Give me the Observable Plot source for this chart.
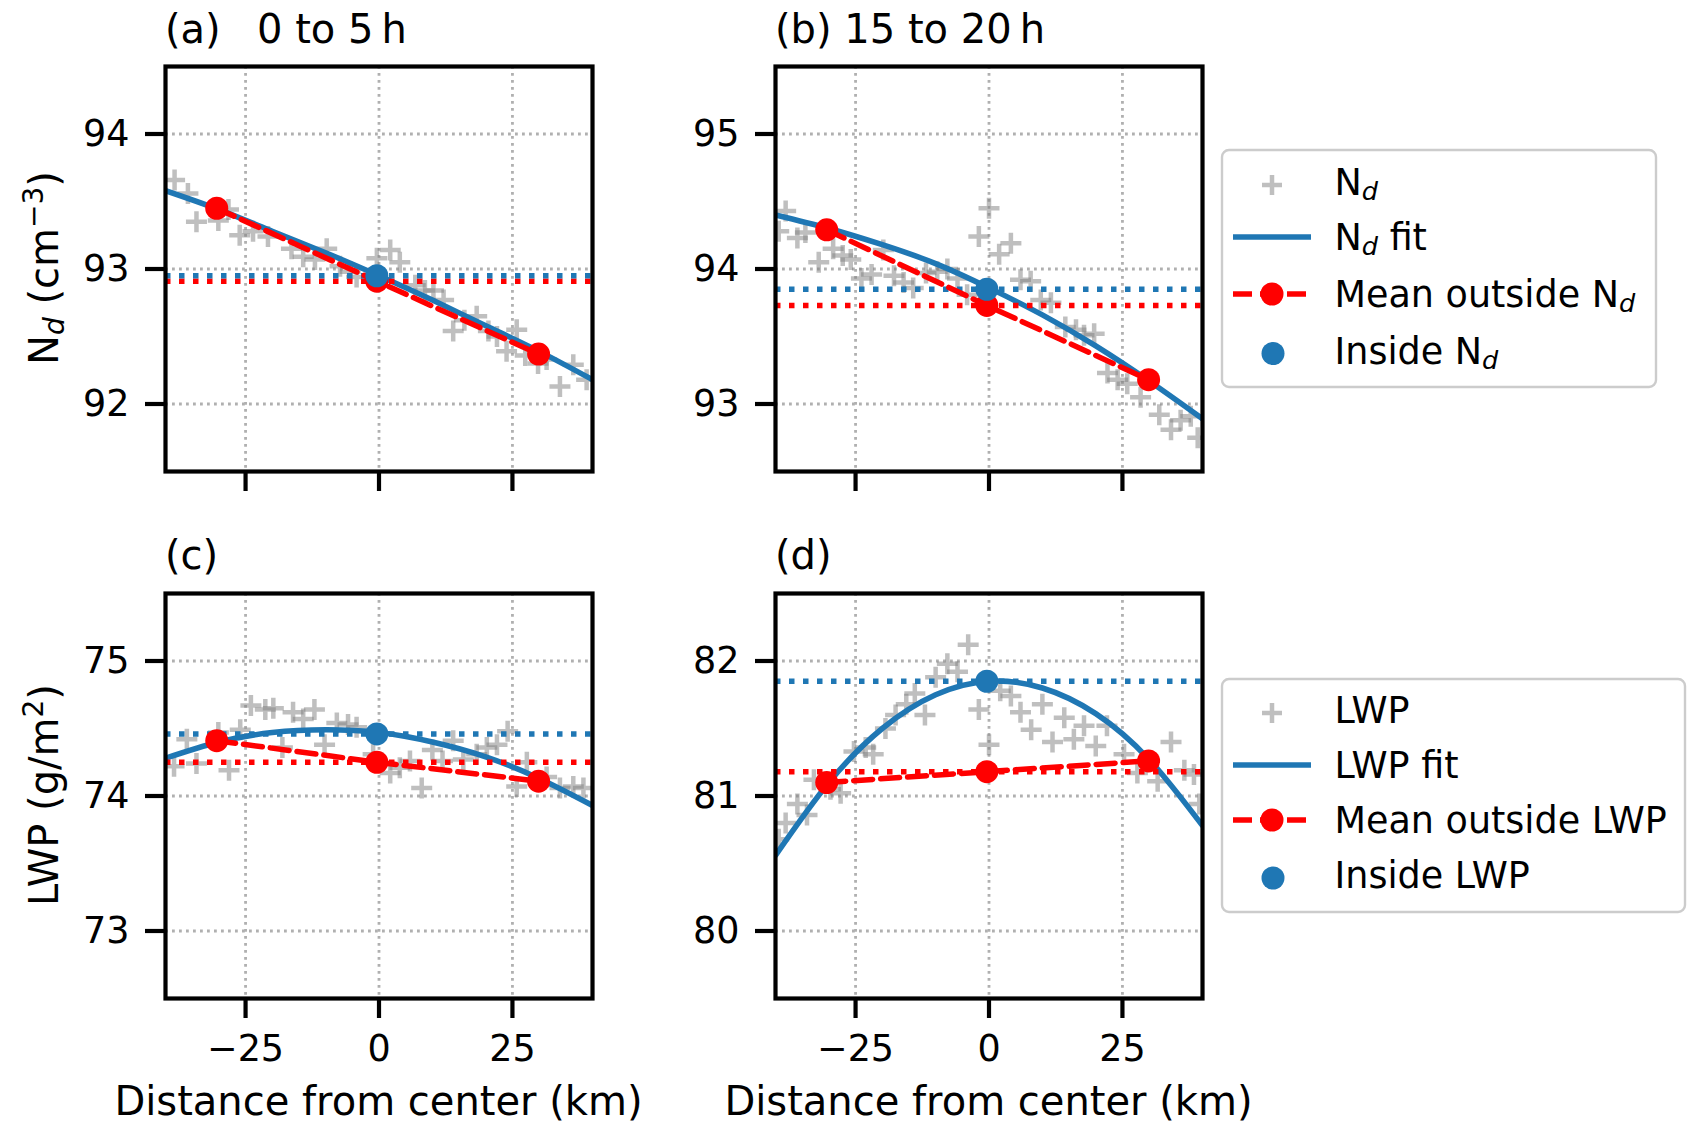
<!DOCTYPE html>
<html>
<head>
<meta charset="utf-8">
<script src="https://cdn.jsdelivr.net/npm/d3@7"></script>
<script src="https://cdn.jsdelivr.net/npm/@observablehq/plot@0.6"></script>
<style>
  body { margin: 0; background: #fff; }
  #page { position: relative; width: 1706px; height: 1134px; overflow: hidden; background: #fff; }
  .panel { position: absolute; }
  #overlay { position: absolute; left: 0; top: 0; font-family: "DejaVu Sans", sans-serif; }
</style>
</head>
<body>
<div id="page">
  <div class="panel" id="pa"></div>
  <div class="panel" id="pb"></div>
  <div class="panel" id="pc"></div>
  <div class="panel" id="pd"></div>
  <svg id="overlay" width="1706" height="1134"></svg>
</div>
<script>
// scatter: [distance km, value]
const ndEarly = [[-38.3,93.66],[-35.8,93.56],[-34.2,93.35],[-30.1,93.36],[-28.2,93.44],[-26.1,93.25],[-23.6,93.28],[-20.8,93.24],[-16.4,93.15],[-14.2,93.09],[-12.0,93.07],[-9.8,93.15],[-7.3,93.02],[-5.4,92.98],[-4.2,92.94],[-0.4,93.08],[2.1,93.14],[3.9,93.05],[6.8,92.88],[8.6,92.84],[10.2,92.84],[12.1,92.77],[13.9,92.54],[16.0,92.62],[18.3,92.65],[20.5,92.54],[22.1,92.50],[23.9,92.39],[25.8,92.55],[27.4,92.36],[29.8,92.30],[31.4,92.33],[33.9,92.13],[36.4,92.29],[38.9,92.18]];
const ndLate = [[-39.4,94.28],[-38.1,94.43],[-35.9,94.23],[-34.4,94.27],[-31.9,94.05],[-29.2,94.15],[-27.4,94.10],[-25.9,94.07],[-23.9,93.93],[-22.0,93.96],[-19.8,94.14],[-17.8,93.95],[-16.0,93.90],[-14.2,93.86],[-11.8,93.97],[-9.7,93.98],[-7.8,94.00],[-5.9,93.93],[-4.1,93.81],[-1.9,94.24],[0.0,94.45],[1.9,94.11],[4.1,94.19],[5.9,93.92],[7.8,93.91],[9.7,93.77],[11.6,93.75],[14.3,93.57],[16.3,93.55],[17.8,93.51],[19.7,93.52],[22.2,93.23],[24.1,93.18],[25.9,93.15],[28.4,93.05],[31.9,92.92],[34.1,92.81],[35.9,92.88],[37.8,92.91],[39.1,92.75]];
const lwpEarly = [[-38.4,74.22],[-36.0,74.42],[-34.2,74.24],[-30.1,74.47],[-28.1,74.19],[-26.0,74.49],[-24.0,74.67],[-21.3,74.64],[-19.8,74.65],[-18.1,74.36],[-16.1,74.62],[-14.2,74.57],[-12.1,74.64],[-10.2,74.38],[-7.9,74.54],[-5.8,74.53],[-4.2,74.51],[-1.1,74.31],[2.1,74.17],[3.9,74.21],[5.8,74.26],[8.0,74.06],[10.0,74.34],[11.9,74.26],[13.9,74.41],[15.8,74.27],[18.3,74.31],[20.2,74.36],[22.1,74.38],[24.1,74.48],[25.8,74.07],[27.7,74.25],[31.4,74.14],[33.9,74.06],[36.4,74.07],[38.3,74.06]];
const lwpLate = [[-39.4,80.68],[-38.1,80.80],[-35.9,80.94],[-34.1,80.86],[-32.8,81.12],[-29.7,81.05],[-27.8,81.02],[-25.3,81.33],[-23.1,81.36],[-21.7,81.31],[-19.4,81.50],[-17.5,81.60],[-15.5,81.68],[-13.9,81.76],[-12.0,81.60],[-10.0,81.88],[-7.8,81.98],[-5.9,81.92],[-3.9,82.12],[-1.9,81.64],[0.0,81.38],[2.1,81.78],[4.1,81.74],[5.9,81.62],[7.9,81.49],[10.0,81.68],[11.9,81.40],[14.1,81.58],[15.9,81.42],[17.8,81.52],[20.0,81.37],[22.1,81.52],[25.3,81.31],[27.8,81.17],[31.6,81.11],[34.1,81.40],[36.6,81.19],[38.4,81.16],[39.4,80.94]];

// quadratic fits
const fitX = [-40, -30, -20, -10, 0, 10, 20, 30, 40];
const ndEarlyFit = [93.58, 93.44, 93.28, 93.12, 92.95, 92.77, 92.58, 92.39, 92.18];
const ndLateFit = [94.40, 94.30, 94.18, 94.04, 93.86, 93.66, 93.43, 93.17, 92.89];
const lwpEarlyFit = [74.28, 74.40, 74.47, 74.49, 74.47, 74.40, 74.29, 74.13, 73.93];
const lwpLateFit = [80.56, 81.10, 81.50, 81.75, 81.85, 81.80, 81.61, 81.27, 80.78];

// mean outside (left, middle, right) and inside value
const outsideX = [-30.4, -0.4, 29.9];
const insideX = -0.4;
const ndEarlyOut = [93.45, 92.91, 92.37], ndEarlyIn = 92.95;
const ndLateOut = [94.29, 93.73, 93.18], ndLateIn = 93.85;
const lwpEarlyOut = [74.41, 74.25, 74.11], lwpEarlyIn = 74.46;
const lwpLateOut = [81.10, 81.18, 81.26], lwpLateIn = 81.85;

const xTicks = [-25, 0, 25];
const titles = ["(a)", "(b) 15 to 20\u2009h", "(c)", "(d)"];

const blue = "#1f77b4";
const frameW = 427, frameH = 405;
const mLeft = 110, mTop = 10, mRight = 10, mBottom = 90;
const lw = 5.5;

// matplotlib-style "+" marker
const plus = {
  draw(ctx, size) {
    const h = Math.sqrt(size / Math.PI);
    ctx.moveTo(-h, 0); ctx.lineTo(h, 0);
    ctx.moveTo(0, -h); ctx.lineTo(0, h);
  }
};
const fmt = d => d < 0 ? "\u2212" + Math.abs(d) : String(d);

function panel({points, fit, out, inside, yDomain, yTicks, showX}) {
  const grid = {stroke: "#b0b0b0", strokeOpacity: 1, strokeWidth: 2.8, strokeDasharray: "2.8,4.2"};
  const dotted = {strokeWidth: lw, strokeDasharray: "5.5,8.5"};
  return Plot.plot({
    width: mLeft + frameW + mRight,
    height: mTop + frameH + mBottom,
    marginLeft: mLeft, marginTop: mTop, marginRight: mRight, marginBottom: mBottom,
    style: {fontFamily: "DejaVu Sans", fontSize: "36.5px", background: "transparent", overflow: "visible"},
    x: {domain: [-40, 40]},
    y: {domain: yDomain},
    marks: [
      Plot.gridX(xTicks, grid),
      Plot.gridY(yTicks, grid),
      Plot.dot(points, {x: d => d[0], y: d => d[1], symbol: plus, r: 10.5, fill: "none",
        stroke: "#808080", strokeOpacity: 0.5, strokeWidth: 4.5, clip: true}),
      Plot.line(fitX.map((x, i) => [x, fit[i]]), {x: d => d[0], y: d => d[1], curve: "natural",
        stroke: blue, strokeWidth: lw, clip: true}),
      Plot.ruleY([out[1]], {stroke: "red", ...dotted}),
      Plot.ruleY([inside], {stroke: blue, ...dotted}),
      Plot.line(outsideX.map((x, i) => [x, out[i]]), {x: d => d[0], y: d => d[1],
        stroke: "red", strokeWidth: lw, strokeDasharray: "19,8"}),
      Plot.dot(outsideX.map((x, i) => [x, out[i]]), {x: d => d[0], y: d => d[1], fill: "red", r: 11.5}),
      Plot.dot([[insideX, inside]], {x: d => d[0], y: d => d[1], fill: blue, r: 11.5}),
      Plot.frame({stroke: "black", strokeWidth: 4.2}),
      Plot.axisX(xTicks, {tickSize: 20, tickPadding: 17, strokeWidth: 4.2, fontSize: 36.5, label: null,
        tickFormat: showX ? fmt : () => ""}),
      Plot.axisY(yTicks, {tickSize: 20, tickPadding: 16, strokeWidth: 4.2, fontSize: 36.5, label: null,
        tickFormat: fmt})
    ]
  });
}

const panels = [
  {id: "pa", left: 165, top: 66, points: ndEarly, fit: ndEarlyFit, out: ndEarlyOut, inside: ndEarlyIn, yDomain: [91.5, 94.5], yTicks: [92, 93, 94], showX: false},
  {id: "pb", left: 775, top: 66, points: ndLate, fit: ndLateFit, out: ndLateOut, inside: ndLateIn, yDomain: [92.5, 95.5], yTicks: [93, 94, 95], showX: false},
  {id: "pc", left: 165, top: 593, points: lwpEarly, fit: lwpEarlyFit, out: lwpEarlyOut, inside: lwpEarlyIn, yDomain: [72.5, 75.5], yTicks: [73, 74, 75], showX: true},
  {id: "pd", left: 775, top: 593, points: lwpLate, fit: lwpLateFit, out: lwpLateOut, inside: lwpLateIn, yDomain: [79.5, 82.5], yTicks: [80, 81, 82], showX: true}
];

panels.forEach(p => {
  const el = document.getElementById(p.id);
  el.style.left = (p.left - mLeft) + "px";
  el.style.top = (p.top - mTop) + "px";
  el.append(panel(p));
});

// titles, axis labels and legends
const svg = d3.select("#overlay");

function rich(text, parts, size) {
  // parts: [string, "sub" | "sup" | null]
  let shift = 0;
  parts.forEach(([s, kind]) => {
    const t = text.append("tspan").text(s);
    let target = 0;
    if (kind === "sub") { target = size * 0.14; t.attr("font-size", size * 0.7).attr("font-style", "italic"); }
    if (kind === "sup") { target = -size * 0.38; t.attr("font-size", size * 0.7); }
    if (target !== shift) t.attr("dy", target - shift);
    shift = target;
  });
}

svg.append("text").attr("x", 165).attr("y", 42.5).attr("font-size", 40).text(titles[0]);
svg.append("text").attr("x", 257).attr("y", 42.5).attr("font-size", 40).text("0 to 5\u2009h");
svg.append("text").attr("x", 775).attr("y", 42.5).attr("font-size", 40).text(titles[1]);
svg.append("text").attr("x", 165).attr("y", 569).attr("font-size", 40).text(titles[2]);
svg.append("text").attr("x", 775).attr("y", 569).attr("font-size", 40).text(titles[3]);

rich(svg.append("text").attr("transform", "translate(58,268) rotate(-90)").attr("text-anchor", "middle").attr("font-size", 40),
  [["N", null], ["d", "sub"], [" (cm", null], ["\u22123", "sup"], [")", null]], 40);
rich(svg.append("text").attr("transform", "translate(58,795) rotate(-90)").attr("text-anchor", "middle").attr("font-size", 40),
  [["LWP (g/m", null], ["2", "sup"], [")", null]], 40);

[378.5, 988.5].forEach(cx => {
  svg.append("text").attr("x", cx).attr("y", 1115).attr("text-anchor", "middle").attr("font-size", 40)
    .text("Distance from center (km)");
});

function legend(x0, y0, w, h, rowOffsets, labels) {
  const g = svg.append("g");
  g.append("rect").attr("x", x0).attr("y", y0).attr("width", w).attr("height", h).attr("rx", 7)
    .attr("fill", "white").attr("stroke", "#cccccc").attr("stroke-width", 2.4);
  const rows = rowOffsets.map(r => y0 + r);
  const hx = 1272, hl = 1233, hr = 1311;
  // "+" handle
  g.append("path").attr("d", `M${hx - 10},${rows[0] + 3}h20M${hx},${rows[0] + 3 - 10}v20`)
    .attr("stroke", "#808080").attr("stroke-opacity", 0.5).attr("stroke-width", 4.5).attr("fill", "none");
  g.append("line").attr("x1", hl).attr("x2", hr).attr("y1", rows[1]).attr("y2", rows[1])
    .attr("stroke", blue).attr("stroke-width", lw);
  g.append("line").attr("x1", hl).attr("x2", hr).attr("y1", rows[2]).attr("y2", rows[2])
    .attr("stroke", "red").attr("stroke-width", lw).attr("stroke-dasharray", "19,8");
  g.append("circle").attr("cx", hx).attr("cy", rows[2]).attr("r", 11.5).attr("fill", "red");
  g.append("circle").attr("cx", hx + 1).attr("cy", rows[3] + 3).attr("r", 11.5).attr("fill", blue);
  labels.forEach((parts, i) => {
    rich(g.append("text").attr("x", 1334.5).attr("y", rows[i] + 13).attr("font-size", 36.5), parts, 36.5);
  });
}

legend(1222, 150, 434, 237, [32, 87, 144, 200.5], [
  [["N", null], ["d", "sub"]],
  [["N", null], ["d", "sub"], [" fit", null]],
  [["Mean outside N", null], ["d", "sub"]],
  [["Inside N", null], ["d", "sub"]]
]);
legend(1222, 679, 463, 233, [31, 86, 141, 196], [
  [["LWP", null]],
  [["LWP fit", null]],
  [["Mean outside LWP", null]],
  [["Inside LWP", null]]
]);
</script>
</body>
</html>
